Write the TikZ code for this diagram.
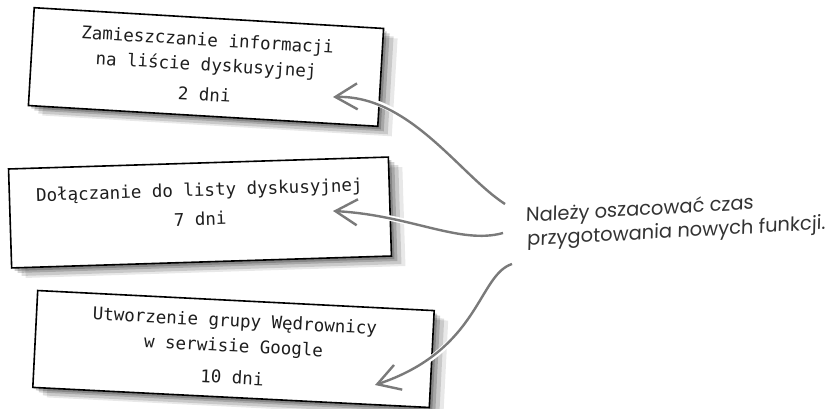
\documentclass[tikz,border=0pt]{standalone}
\usepackage{fontspec}
\setmonofont{DejaVu Sans Mono}
\newfontfamily\odreczne[FakeSlant=0.08]{Poppins}
\usetikzlibrary{arrows.meta,shadows}
\definecolor{szary}{HTML}{7A7A7A}
\definecolor{grafit}{HTML}{333333}
\definecolor{tusz}{HTML}{1E1E1E}

\begin{document}
\begin{tikzpicture}[
  x=1pt,y=-1pt,
  kartka/.style={draw=black,line width=1.6pt,fill=white,inner sep=0pt,align=center,
                 text=tusz,font=\ttfamily\fontsize{17.5}{25}\selectfont,
                 drop shadow={shadow xshift=3pt,shadow yshift=-3pt,opacity=.2,fill=black},
                 drop shadow={shadow xshift=6pt,shadow yshift=-5pt,opacity=.17,fill=black},
                 drop shadow={shadow xshift=10pt,shadow yshift=-8pt,opacity=.13,fill=black},
                 drop shadow={shadow xshift=14pt,shadow yshift=-10pt,opacity=.09,fill=black}},
  strzalka/.style={-{Straight Barb[length=22pt,width=26pt]},line width=2.4pt,draw=szary,
                   preaction={draw=white,line width=5.5pt}},
  notatka/.style={font=\odreczne\fontsize{19.5}{24}\selectfont,text=grafit,align=left,inner sep=0pt}
]
  \useasboundingbox[fill=white] (0,0) rectangle (833,408);

  \node[kartka,rotate=-3.4,minimum width=350pt,minimum height=98pt] (k1) at (206,67)
       {Zamieszczanie informacji\\na liście dyskusyjnej\\[5pt]2 dni};
  \node[kartka,rotate=1.8,minimum width=380pt,minimum height=99pt,text depth=17pt] (k2) at (200,212.5)
       {Dołączanie do listy dyskusyjnej\\[4pt]7 dni};
  \node[kartka,rotate=-2.9,minimum width=397pt,minimum height=97pt] (k3) at (233.5,349)
       {Utworzenie grupy Wędrownicy\\w serwisie Google\\[7pt]10 dni};

  \node[notatka,rotate=3.2,anchor=west] (uwaga) at (526,229)
       {Należy oszacować czas\\przygotowania nowych funkcji.};

  \coordinate (p1) at (505,204);
  \coordinate (p2) at (503,233);
  \coordinate (p3) at (512,264);
  \coordinate (g1) at (333,97);
  \coordinate (g2) at (333,211);
  \coordinate (g3) at (375,385);

  \draw[strzalka] (p1) .. controls (460,175) and (410,95) .. (g1);
  \draw[strzalka] (p2) .. controls (460,245) and (410,215) .. (g2);
  \draw[strzalka] (p3) .. controls (478,275) and (480,350) .. (g3);
\end{tikzpicture}
\end{document}
